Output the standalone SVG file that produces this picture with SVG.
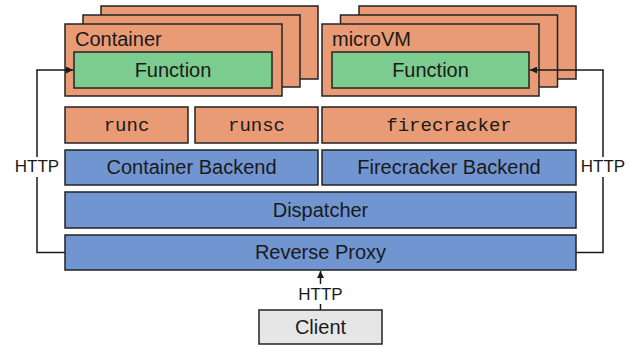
<svg xmlns="http://www.w3.org/2000/svg" width="631" height="347" viewBox="0 0 631 347">
<defs>
<style>
.box{stroke:#232323;stroke-width:1.5}
.or{fill:#E89B74}
.gr{fill:#7CCB8F}
.bl{fill:#7195D0}
.cl{fill:#E6E6E6}
.t{font-family:"Liberation Sans",Arial,sans-serif;font-size:20px;fill:#1a1a1a}
.m{font-family:"Liberation Mono","Courier New",monospace;font-size:19px;fill:#1a1a1a}
.h{font-family:"Liberation Sans",Arial,sans-serif;font-size:17px;fill:#1a1a1a;text-anchor:middle}
.c{text-anchor:middle}
.ln{fill:none;stroke:#1a1a1a;stroke-width:1.5}
</style>
<marker id="ah" viewBox="0 0 10 10" refX="10" refY="5" markerWidth="7" markerHeight="7" markerUnits="userSpaceOnUse" orient="auto">
<path d="M0,0 L10,5 L0,10 z" fill="#1a1a1a"/>
</marker>
</defs>
<rect width="631" height="347" fill="#fff"/>

<g id="container">
<rect class="box or" x="101" y="6" width="217" height="73"/>
<rect class="box or" x="83" y="15" width="217" height="72"/>
<rect class="box or" x="65" y="24" width="217" height="72"/>
<text class="t" x="75" y="46">Container</text>
</g>
<g id="function-left">
<rect class="box gr" x="74" y="52" width="198" height="36"/>
<text class="t c" x="173" y="77">Function</text>
</g>

<g id="microvm">
<rect class="box or" x="359" y="6" width="217" height="73"/>
<rect class="box or" x="340.5" y="15" width="217" height="72"/>
<rect class="box or" x="322" y="24" width="217" height="72"/>
<text class="t" x="332" y="46">microVM</text>
</g>
<g id="function-right">
<rect class="box gr" x="332" y="52" width="197" height="36"/>
<text class="t c" x="430.5" y="77">Function</text>
</g>

<g id="runc">
<rect class="box or" x="65" y="107" width="123" height="36"/>
<text class="m c" x="126.5" y="131">runc</text>
</g>
<g id="runsc">
<rect class="box or" x="195" y="107" width="123" height="36"/>
<text class="m c" x="256.5" y="131">runsc</text>
</g>
<g id="firecracker">
<rect class="box or" x="322" y="107" width="254" height="36"/>
<text class="m c" x="449" y="131">firecracker</text>
</g>

<g id="container-backend">
<rect class="box bl" x="65" y="150" width="253" height="35"/>
<text class="t c" x="191.5" y="174">Container Backend</text>
</g>
<g id="firecracker-backend">
<rect class="box bl" x="322" y="150" width="254" height="35"/>
<text class="t c" x="449" y="174">Firecracker Backend</text>
</g>
<g id="dispatcher">
<rect class="box bl" x="65" y="192" width="511" height="36"/>
<text class="t c" x="320.5" y="217">Dispatcher</text>
</g>
<g id="reverse-proxy">
<rect class="box bl" x="65" y="235" width="511" height="35"/>
<text class="t c" x="320.5" y="259">Reverse Proxy</text>
</g>
<g id="client">
<rect class="box cl" x="259" y="310" width="123" height="34"/>
<text class="t c" x="320.5" y="334">Client</text>
</g>

<g id="connectors">
<path class="ln" d="M65,252.5 H37 V70 H73" marker-end="url(#ah)"/>
<path class="ln" d="M576,252.5 H603 V70 H530" marker-end="url(#ah)"/>
<path class="ln" d="M320.5,310 V271" marker-end="url(#ah)"/>
<rect x="12" y="157" width="50" height="20" fill="#fff"/>
<text class="h" x="37" y="172">HTTP</text>
<rect x="578" y="157" width="50" height="20" fill="#fff"/>
<text class="h" x="603" y="172">HTTP</text>
<rect x="296" y="284" width="50" height="20" fill="#fff"/>
<text class="h" x="320.5" y="300">HTTP</text>
</g>
</svg>
